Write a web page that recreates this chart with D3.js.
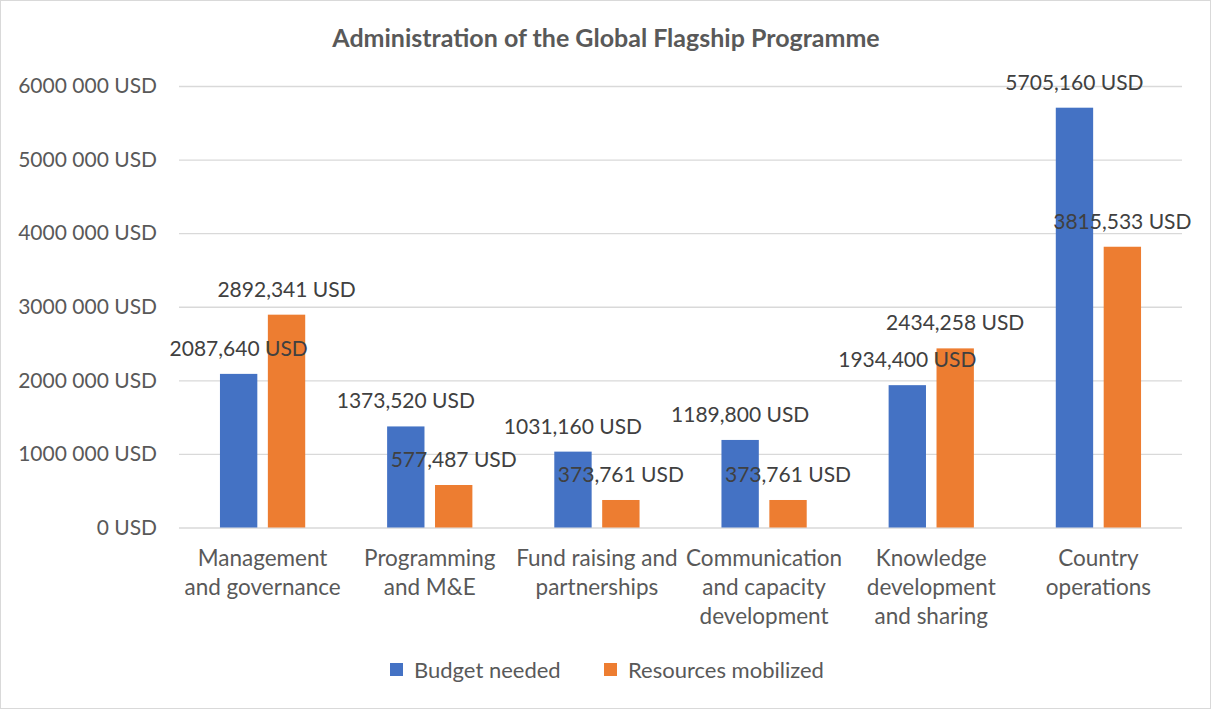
<!DOCTYPE html>
<html>
<head>
<meta charset="utf-8">
<script src="https://cdn.jsdelivr.net/npm/d3@7"></script>
<style>
  body { margin: 0; background: #fff; }
  svg { font-family: Lato, "Open Sans", sans-serif; }
</style>
</head>
<body>
<div id="vis"></div>
<script>
// chart data
const categories = ["Management and governance", "Programming and M&E",
  "Fund raising and partnerships", "Communication and capacity development",
  "Knowledge development and sharing", "Country operations"];
const categoryLines = [
  ["Management", "and governance"],
  ["Programming", "and M&E"],
  ["Fund raising and", "partnerships"],
  ["Communication", "and capacity", "development"],
  ["Knowledge", "development", "and sharing"],
  ["Country", "operations"]
];
const seriesNames = ["Budget needed", "Resources mobilized"];
const budgetNeeded = [2087640, 1373520, 1031160, 1189800, 1934400, 5705160];
const resourcesMobilized = [2892341, 577487, 373761, 373761, 2434258, 3815533];
const yTicks = [0, 1000000, 2000000, 3000000, 4000000, 5000000, 6000000];
const colors = ["#4472C4", "#ED7D31"];

const width = 1212;
const height = 710;
const plot = {left: 179, right: 1182, top: 86, bottom: 527.5};

const pad3 = n => String(n).padStart(3, "0");
const tickFmt = v => v == 0 ? "0 USD" : Math.floor(v / 1000) + " " + pad3(v % 1000) + " USD";
const labelFmt = v => Math.floor(v / 1000) + "," + pad3(v % 1000) + " USD";

const svg = d3.select("#vis").append("svg")
    .attr("width", width)
    .attr("height", height);

svg.append("rect")
    .attr("x", 0.5).attr("y", 0.5)
    .attr("width", width - 2).attr("height", height - 2)
    .attr("fill", "#fff")
    .attr("stroke", "#d9d9d9");

const y = d3.scaleLinear()
    .domain([0, 6000000])
    .range([plot.bottom, plot.top]);

const x0 = d3.scaleBand()
    .domain(categories)
    .range([plot.left, plot.right])
    .paddingInner(0.49)
    .paddingOuter(0.245);

const x1 = d3.scaleBand()
    .domain(seriesNames)
    .range([0, x0.bandwidth()])
    .paddingInner(0.22);

// gridlines + y labels
const yAxis = svg.append("g")
    .attr("transform", `translate(${plot.left},0)`)
    .call(d3.axisLeft(y)
      .tickValues(yTicks)
      .tickFormat(tickFmt)
      .tickSize(-(plot.right - plot.left))
      .tickPadding(22));
yAxis.select(".domain").remove();
yAxis.selectAll(".tick line").attr("stroke", "#d9d9d9").attr("stroke-width", 1.3);
yAxis.selectAll(".tick text")
    .attr("fill", "#595959")
    .style("font-size", "21px")
    .style("font-family", "Lato, sans-serif");

const rows = categories.map((c, i) => ({
  cat: c,
  values: [budgetNeeded[i], resourcesMobilized[i]]
}));

const groups = svg.append("g")
  .selectAll("g")
  .data(rows)
  .join("g")
    .attr("transform", d => `translate(${x0(d.cat)},0)`);

groups.selectAll("rect")
  .data(d => d.values.map((v, j) => ({name: seriesNames[j], v, j})))
  .join("rect")
    .attr("x", d => x1(d.name))
    .attr("y", d => y(d.v))
    .attr("width", x1.bandwidth())
    .attr("height", d => y(0) - y(d.v))
    .attr("fill", d => colors[d.j]);

// data labels
groups.selectAll("text.lbl")
  .data(d => d.values.map((v, j) => ({name: seriesNames[j], v, j})))
  .join("text")
    .attr("class", "lbl")
    .attr("x", d => x1(d.name) + x1.bandwidth() / 2)
    .attr("y", d => y(d.v) - 18)
    .attr("text-anchor", "middle")
    .attr("fill", "#404040")
    .style("font-size", "21px")
    .text(d => labelFmt(d.v));

// category labels
svg.append("g")
  .selectAll("text")
  .data(categories)
  .join("text")
    .attr("x", d => x0(d) + x0.bandwidth() / 2)
    .attr("y", 566)
    .attr("text-anchor", "middle")
    .attr("fill", "#595959")
    .style("font-size", "22.5px")
  .selectAll("tspan")
  .data((d, i) => categoryLines[i])
  .join("tspan")
    .attr("x", function() { return this.parentNode.getAttribute("x"); })
    .attr("dy", (d, i) => i == 0 ? 0 : 29)
    .text(d => d);

// title
svg.append("text")
    .attr("x", 606)
    .attr("y", 47)
    .attr("text-anchor", "middle")
    .attr("fill", "#595959")
    .style("font-size", "25px")
    .style("font-weight", "bold")
    .text("Administration of the Global Flagship Programme");

// legend
const legendX = [390, 604];
const legend = svg.append("g")
  .selectAll("g")
  .data(seriesNames)
  .join("g")
    .attr("transform", (d, i) => `translate(${legendX[i]},663)`);
legend.append("rect")
    .attr("width", 13).attr("height", 13)
    .attr("fill", (d, i) => colors[i]);
legend.append("text")
    .attr("x", 24)
    .attr("y", 15)
    .attr("fill", "#595959")
    .style("font-size", "22px")
    .text(d => d);
</script>
</body>
</html>
